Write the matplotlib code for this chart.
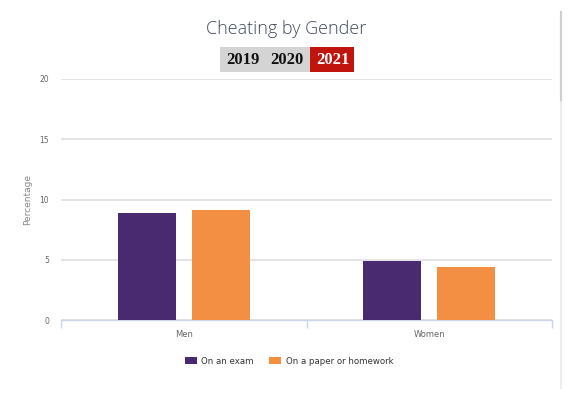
import matplotlib
matplotlib.use("Agg")
import matplotlib.pyplot as plt
import numpy as np
from matplotlib.patches import Rectangle
from matplotlib.lines import Line2D

categories = ["Men", "Women"]
series_names = ["On an exam", "On a paper or homework"]
exam = [8.9, 4.9]
paper = [9.1, 4.4]
years = ["2019", "2020", "2021"]
y_ticks = [0, 5, 10, 15, 20]
colors = ["#492970", "#f28f43"]

W, H = 570, 394
fig = plt.figure(figsize=(W / 100, H / 100), dpi=100)

def fx(px):
    return px / W

def fy(py):
    return 1 - py / H

# plot area
left, right, top, bottom = 61, 552, 79, 320
ax = fig.add_axes([fx(left), fy(bottom), fx(right - left), (bottom - top) / H])

x = np.arange(len(categories))
bw = 0.237
off = 0.151
ax.bar(x - off, exam, bw, color=colors[0], label=series_names[0], zorder=3)
ax.bar(x + off, paper, bw, color=colors[1], label=series_names[1], zorder=3)

ax.set_xlim(-0.5, len(categories) - 0.5)
ax.set_ylim(0, 20)
ax.set_yticks(y_ticks)
ax.set_yticklabels([str(t) for t in y_ticks], fontsize=5.5, color="#666666")
ax.tick_params(axis="y", length=0, pad=8.6)
ax.yaxis.grid(True, color="#dedede", linewidth=1.2, zorder=0)
ax.set_axisbelow(True)

for s in ["left", "right", "top"]:
    ax.spines[s].set_visible(False)
ax.spines["bottom"].set_color("#ccd6eb")
ax.spines["bottom"].set_linewidth(1.0)

# category ticks at boundaries, labels at centers
ax.set_xticks(np.arange(-0.5, len(categories), 1.0))
ax.set_xticklabels([])
ax.tick_params(axis="x", length=6, color="#ccd6eb", width=1.0)
ax.set_xticks(x, minor=True)
ax.set_xticklabels(categories, minor=True, fontsize=6, color="#666666")
ax.tick_params(axis="x", which="minor", length=0, pad=7)

ax.set_ylabel("Percentage", fontsize=6.5, color="#888888", labelpad=5)

# title
fig.text(fx(286), fy(29), "Cheating by Gender", ha="center", va="center",
         fontsize=13, color="#404b5a", family="Open Sans", fontweight="light")

# year buttons
fig.add_artist(Rectangle((fx(220), fy(72)), fx(90), (72 - 47) / H,
                         transform=fig.transFigure, facecolor="#d4d4d4", edgecolor="none"))
fig.add_artist(Rectangle((fx(310), fy(72)), fx(44), (72 - 47) / H,
                         transform=fig.transFigure, facecolor="#c0140c", edgecolor="none"))
year_x = [242.5, 286.7, 332.5]
year_c = ["#111111", "#111111", "#ffffff"]
for yx, yl, yc in zip(year_x, years, year_c):
    fig.text(fx(yx), fy(60), yl, ha="center", va="center", fontsize=12,
             color=yc, family="Liberation Serif", fontweight="bold")

# legend
leg = fig.legend(loc="center", bbox_to_anchor=(fx(289), fy(361)), ncol=2,
                 frameon=False, fontsize=6.2, handlelength=1.4, handleheight=0.9,
                 handletextpad=0.5, columnspacing=1.8)
for t in leg.get_texts():
    t.set_color("#333333")

# scrollbar on the right
fig.add_artist(Line2D([fx(561), fx(561)], [fy(388), fy(12)], transform=fig.transFigure,
                      color="#ececec", linewidth=1.5))
fig.add_artist(Line2D([fx(561), fx(561)], [fy(100), fy(12)], transform=fig.transFigure,
                      color="#cfcfcf", linewidth=1.5))

fig.savefig("out.png", dpi=100, facecolor="white")
